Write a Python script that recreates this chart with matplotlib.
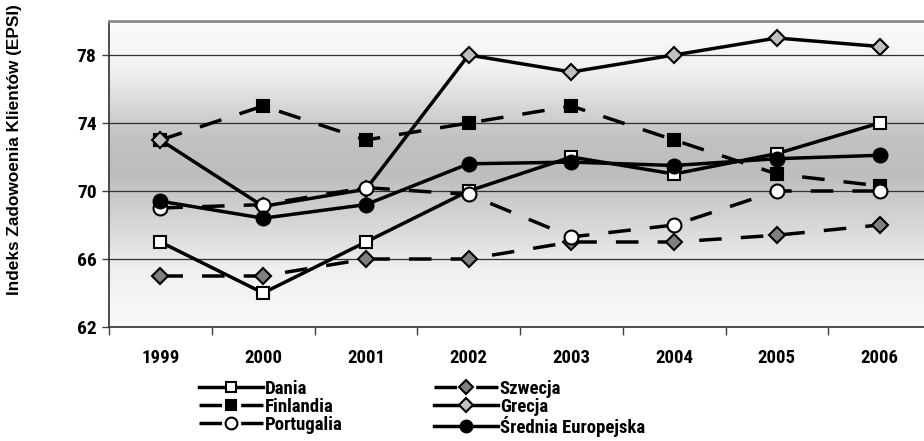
import matplotlib
matplotlib.use("Agg")
import matplotlib.pyplot as plt
import numpy as np
from matplotlib.colors import LinearSegmentedColormap

# Customer satisfaction index (EPSI) by country, 1999-2006
years = ["1999", "2000", "2001", "2002", "2003", "2004", "2005", "2006"]
dania = [67.0, 64.0, 67.0, 70.0, 72.0, 71.0, 72.2, 74.0]
finlandia = [73.0, 75.0, 73.0, 74.0, 75.0, 73.0, 71.0, 70.3]
szwecja = [65.0, 65.0, 66.0, 66.0, 67.0, 67.0, 67.4, 68.0]
grecja = [73.0, 69.1, 70.1, 78.0, 77.0, 78.0, 79.0, 78.5]
portugalia = [69.0, 69.2, 70.2, 69.8, 67.3, 68.0, 70.0, 70.0]
srednia = [69.4, 68.4, 69.2, 71.6, 71.7, 71.5, 71.9, 72.1]

labels = ["Dania", "Finlandia", "Portugalia", "Szwecja", "Grecja", "Średnia Europejska"]

narrow = ["Roboto Condensed", "Liberation Sans", "DejaVu Sans"]

fig = plt.figure(figsize=(9.24, 4.41), dpi=100)
ax = fig.add_axes([109 / 924, 114 / 441, 822 / 924, 306 / 441])

# vertical gradient background: light at top and bottom, darker in the middle
cmap = LinearSegmentedColormap.from_list(
    "bg", [(0.0, "#fafafa"), (0.18, "#f0f0f0"), (0.5, "#bdbdbd"),
           (0.62, "#c2c2c2"), (0.85, "#f2f2f2"), (1.0, "#fbfbfb")])
grad = np.linspace(1, 0, 256).reshape(-1, 1)
ax.imshow(grad, cmap=cmap, aspect="auto", extent=[-0.5, 7.5, 62, 80],
          zorder=0, vmin=0, vmax=1)

x = np.arange(len(years))
lw = 2.5
dash = (0, (6.5, 5.5))
common = dict(color="black", lw=lw, mec="black", mew=1.5)

ax.plot(x, dania, marker="s", ms=8.5, mfc="white", ls="-", label="Dania", zorder=3, **common)
ax.plot(x, finlandia, marker="s", ms=8.5, mfc="black", ls=dash, label="Finlandia", zorder=3, **common)
ax.plot(x, szwecja, marker="D", ms=8, mfc="#808080", ls=dash, label="Szwecja", zorder=3, **common)
ax.plot(x, grecja, marker="D", ms=8, mfc="#c0c0c0", ls="-", label="Grecja", zorder=3, **common)
ax.plot(x, portugalia, marker="o", ms=10, mfc="white", ls=dash, label="Portugalia", zorder=3, **common)
ax.plot(x, srednia, marker="o", ms=10, mfc="black", ls="-", label="Średnia Europejska", zorder=3, **common)

ax.set_xlim(-0.5, 7.5)
ax.set_ylim(62, 80)

# horizontal gridlines
ax.set_yticks([62, 66, 70, 74, 78])
for v in [66, 70, 74, 78]:
    ax.axhline(v, color="#303030", lw=0.9, zorder=1)

ax.set_yticklabels(["62", "66", "70", "74", "78"], fontsize=14, fontweight="bold",
                   family=narrow)
ax.tick_params(axis="y", direction="out", length=5, width=1, color="#404040", pad=4)

# category boundaries as major ticks, year labels at category centres
ax.set_xticks(np.arange(-0.5, 8.0, 1.0))
ax.set_xticklabels([])
ax.tick_params(axis="x", which="major", direction="out", length=6, width=1, color="#404040")
ax.set_xticks(x, minor=True)
ax.set_xticklabels(years, minor=True, fontsize=13.5, fontweight="bold", family=narrow)
ax.tick_params(axis="x", which="minor", length=0, pad=16)

for side in ["left", "bottom"]:
    ax.spines[side].set_color("#303030")
    ax.spines[side].set_linewidth(1.2)
ax.spines["top"].set_color("#8c8c8c")
ax.spines["top"].set_linewidth(2)
ax.spines["right"].set_visible(False)

fig.text(15 / 924, 1 - 150 / 441, "Indeks Zadowoenia Klientów (EPSI)", rotation=90,
         ha="center", va="center", fontsize=12.4, fontweight="bold",
         family="Liberation Sans")

handles, lbls = ax.get_legend_handles_labels()
order = [lbls.index(l) for l in labels]
fig.legend([handles[i] for i in order], labels, ncol=2, frameon=False,
           loc="upper left", bbox_to_anchor=(199 / 924, 1 - 380 / 441),
           prop={"family": narrow, "weight": "bold", "size": 13.5},
           handlelength=3.4, handletextpad=0.1, labelspacing=0.0,
           columnspacing=4.9, borderpad=0, borderaxespad=0, markerscale=0.85)

fig.savefig("out.png", dpi=100)
